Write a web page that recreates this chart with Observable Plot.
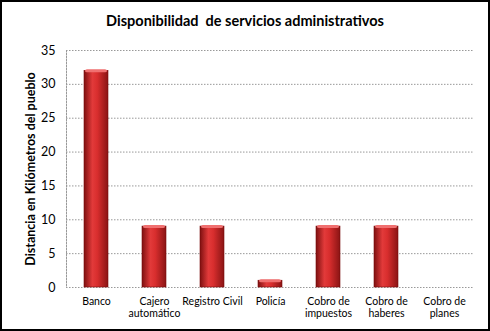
<!DOCTYPE html>
<html><head><meta charset="utf-8">
<script src="https://cdn.jsdelivr.net/npm/d3@7"></script>
<script src="https://cdn.jsdelivr.net/npm/@observablehq/plot@0.6"></script>
<style>
html,body{margin:0;padding:0;background:#fff;}
#wrap{position:relative;width:490px;height:331px;overflow:hidden;font-family:Lato,sans-serif;}
#title{position:absolute;left:0;top:12px;width:490px;text-align:center;font-size:14.5px;font-weight:bold;color:#000;}
#border{position:absolute;left:0;top:0;width:490px;height:331px;box-sizing:border-box;border:2px solid #000;pointer-events:none;}
</style></head>
<body>
<div id="wrap"><div id="title">Disponibilidad&nbsp; de servicios administrativos</div><div id="chart"></div><div id="border"></div></div>
<script>
const categories = ["Banco","Cajero automático","Registro Civil","Policía","Cobro de impuestos","Cobro de haberes","Cobro de planes"];
const tickLabels = ["Banco","Cajero\nautomático","Registro Civil","Policía","Cobro de\nimpuestos","Cobro de\nhaberes","Cobro de\nplanes"];
const values = [32, 9, 9, 1, 9, 9, 0];
const yTicks = [0,5,10,15,20,25,30,35];

const data = categories.map((c,i)=>({cat:c, v:values[i]}));
const labelOf = new Map(categories.map((c,i)=>[c, tickLabels[i]]));

const chart = Plot.plot({
  width: 490, height: 331,
  marginLeft: 66, marginRight: 16, marginTop: 50, marginBottom: 44,
  style: {fontFamily: "Lato, sans-serif", fontSize: "11px", color: "#000", background: "transparent"},
  x: {domain: categories, paddingInner: 0.58, paddingOuter: 0.29, label: null},
  y: {domain: [0,35], label: null},
  marks: [
    Plot.gridY(yTicks, {stroke: "#999", strokeOpacity: 1, strokeDasharray: "1.5,1.5", strokeWidth: 1}),
    Plot.frame({anchor: "left", stroke: "#999", strokeDasharray: "1.5,1.5"}),
    Plot.barY(data, {x: "cat", y: "v", fill: "url(#barGrad)", stroke: "#7a0d0d", strokeWidth: 0.6}),
    Plot.barY(data.filter(d => d.v > 0), {x: "cat", y1: "v", y2: "v", insetTop: -1, insetBottom: -2, insetLeft: 1, insetRight: 1, fill: "#f07070", rx: 2}),
    Plot.axisY({ticks: yTicks, tickSize: 0, tickPadding: 11, fontSize: 12.5, label: "Distancia en Kilómetros del pueblo", labelAnchor: "center", labelOffset: 40, labelArrow: "none"}),
    Plot.axisX({tickSize: 0, tickPadding: 9, fontSize: 10.5, label: null, tickFormat: d => labelOf.get(d), lineHeight: 1.15})
  ]
});

const svg = d3.select(chart);
const defs = svg.insert("defs", ":first-child");
const g = defs.append("linearGradient").attr("id","barGrad").attr("x1","0").attr("x2","1").attr("y1","0").attr("y2","0");
g.append("stop").attr("offset","0%").attr("stop-color","#7e1010");
g.append("stop").attr("offset","35%").attr("stop-color","#e23a3a");
g.append("stop").attr("offset","55%").attr("stop-color","#d92e2e");
g.append("stop").attr("offset","100%").attr("stop-color","#8a1414");

svg.selectAll("[aria-label='y-axis label']").attr("font-weight","bold").attr("font-size","12.5");
document.getElementById("chart").appendChild(chart);
</script>
</body></html>
